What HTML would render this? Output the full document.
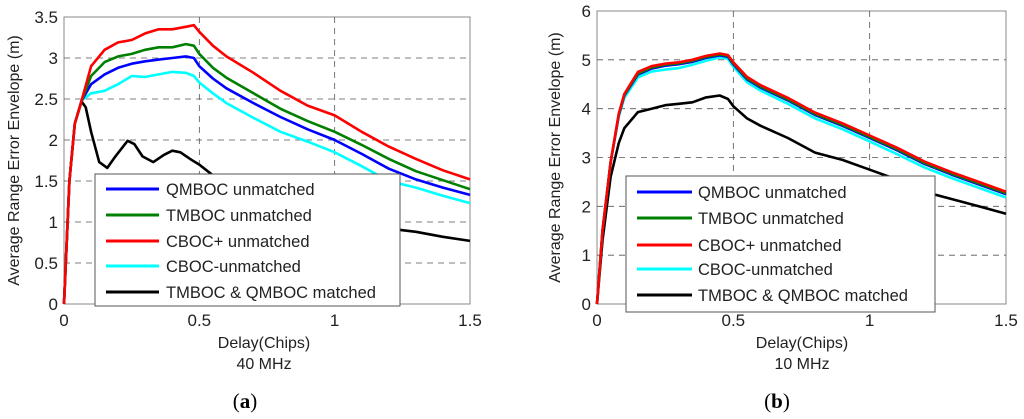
<!DOCTYPE html>
<html><head><meta charset="utf-8"><style>
body{margin:0;background:#fff;}
svg{display:block;font-family:"Liberation Sans",sans-serif;}
</style></head><body>
<svg id="s" width="1024" height="419" xmlns="http://www.w3.org/2000/svg"></svg>
<script>
const xsA=[0,0.02,0.04,0.065,0.1,0.15,0.2,0.25,0.3,0.35,0.4,0.45,0.48,0.5,0.55,0.6,0.7,0.8,0.9,1.0,1.1,1.2,1.3,1.4,1.5];
const blueA=[0,1.5,2.2,2.48,2.68,2.8,2.88,2.93,2.96,2.98,3.0,3.02,3.0,2.9,2.75,2.63,2.45,2.28,2.13,2.0,1.83,1.65,1.52,1.42,1.33];
const greenA=[0,1.5,2.2,2.48,2.78,2.95,3.02,3.05,3.1,3.13,3.13,3.17,3.15,3.05,2.88,2.76,2.57,2.38,2.23,2.1,1.94,1.77,1.62,1.51,1.4];
const redA=[0,1.5,2.2,2.48,2.9,3.1,3.19,3.22,3.3,3.35,3.35,3.38,3.4,3.32,3.15,3.02,2.82,2.6,2.42,2.3,2.1,1.92,1.77,1.63,1.52];
const cyanA=[0,1.5,2.2,2.48,2.57,2.6,2.68,2.78,2.77,2.8,2.83,2.82,2.78,2.7,2.57,2.45,2.27,2.1,1.98,1.85,1.68,1.5,1.42,1.32,1.23];
const xsK=[0,0.02,0.04,0.065,0.08,0.1,0.13,0.16,0.19,0.235,0.26,0.29,0.33,0.37,0.4,0.43,0.47,0.5,0.55,0.6,0.7,0.8,0.9,1.0,1.1,1.2,1.3,1.4,1.5];
const blackA=[0,1.5,2.2,2.47,2.4,2.1,1.73,1.66,1.8,1.99,1.95,1.8,1.73,1.82,1.87,1.85,1.76,1.7,1.57,1.48,1.35,1.22,1.1,1.0,0.97,0.92,0.88,0.82,0.77];
const xsB=[0,0.02,0.05,0.08,0.1,0.15,0.2,0.25,0.3,0.35,0.4,0.45,0.48,0.5,0.55,0.6,0.7,0.8,0.9,1.0,1.1,1.2,1.3,1.4,1.5];
const redB=[0,1.5,2.9,3.9,4.3,4.75,4.87,4.92,4.95,5.0,5.08,5.13,5.1,4.95,4.65,4.48,4.22,3.92,3.7,3.45,3.2,2.92,2.7,2.5,2.3];
const greenB=[0,1.5,2.9,3.88,4.28,4.72,4.84,4.9,4.93,4.98,5.06,5.11,5.08,4.93,4.62,4.45,4.19,3.89,3.67,3.42,3.17,2.89,2.67,2.47,2.27];
const blueB=[0,1.5,2.9,3.87,4.27,4.7,4.82,4.88,4.91,4.96,5.04,5.09,5.06,4.91,4.6,4.43,4.17,3.87,3.65,3.4,3.15,2.87,2.65,2.45,2.25];
const cyanB=[0,1.5,2.9,3.84,4.22,4.64,4.76,4.8,4.83,4.9,4.98,5.05,5.02,4.86,4.54,4.37,4.1,3.8,3.58,3.33,3.07,2.8,2.58,2.38,2.18];
const blackB=[0,1.3,2.6,3.3,3.6,3.93,4.0,4.07,4.1,4.13,4.23,4.27,4.2,4.05,3.8,3.65,3.4,3.1,2.95,2.75,2.55,2.3,2.15,2.0,1.85];
const xTicks=["0","0.5","1","1.5"];
const yTicksA=["0","0.5","1","1.5","2","2.5","3","3.5"];
const yTicksB=["0","1","2","3","4","5","6"];
const legendLabels=["QMBOC unmatched","TMBOC unmatched","CBOC+ unmatched","CBOC-unmatched","TMBOC & QMBOC matched"];

const NS="http://www.w3.org/2000/svg",S=document.getElementById('s');
function el(t,a,p){const e=document.createElementNS(NS,t);for(const k in a)e.setAttribute(k,a[k]);(p||S).appendChild(e);return e;}
function chart(o){
  const g=el('g',{});
  
  
  const X=v=>o.x0+(v/1.5)*(o.x1-o.x0), Y=v=>o.y0-(v/o.ymax)*(o.y0-o.y1);
  el('rect',{x:o.x0,y:o.y1,width:o.x1-o.x0,height:o.y0-o.y1,fill:'#fff',stroke:'#888','stroke-width':1},g);
  xTicks.forEach(t=>{const v=+t,x=X(v);
    if(v>0&&v<1.5){const l=el('line',{x1:x,x2:x,y1:o.y1,y2:o.y0,stroke:'#555','stroke-dasharray':'6,5','stroke-width':0.8},g);}
    const tx=el('text',{x:x,y:o.y0+22,'font-size':17,'text-anchor':'middle',fill:'#222'},g);tx.textContent=t;
    });
  o.yt.forEach(t=>{const v=+t,y=Y(v);
    if(v>0&&v<o.ymax){const l=el('line',{x1:o.x0,x2:o.x1,y1:y,y2:y,stroke:'#555','stroke-dasharray':'6,5','stroke-width':0.8},g);}
    const tx=el('text',{x:o.x0-6,y:y+6,'font-size':17,'text-anchor':'end',fill:'#222'},g);tx.textContent=t;
    });
  o.series.forEach(s=>{
    const d=s.y.map((v,i)=>(i?'L':'M')+X(s.x[i]).toFixed(1)+','+Y(v).toFixed(1)).join('');
    const p=el('path',{d:d,fill:'none',stroke:s.c,'stroke-width':2.6,'stroke-linejoin':'round'},g);
    });
  const L=o.leg;
  const lg=el('g',{},g);
  el('rect',{x:L.x,y:L.y,width:L.w,height:L.h,fill:'#fff',stroke:'#555','stroke-width':1},lg);
  const cols=['#0000ff','#008000','#ff0000','#00ffff','#000000'];
  legendLabels.forEach((t,i)=>{const y=L.ys[i];
    el('line',{x1:L.x+11,x2:L.x+L.lw,y1:y,y2:y,stroke:cols[i],'stroke-width':3},lg);
    const tx=el('text',{x:L.x+L.tx,y:y+6,'font-size':16.5,fill:'#222'},lg);tx.textContent=t;
    });
  const yl=el('text',{x:0,y:0,'font-size':16,'text-anchor':'middle',fill:'#222',transform:`translate(${o.ylx},${(o.y0+o.y1)/2}) rotate(-90)`},g);
  yl.textContent='Average Range Error Envelope (m)';
  const cx=o.cx;
  const xl=el('text',{x:cx,y:348,'font-size':16,'text-anchor':'middle',fill:'#222'},g);xl.textContent='Delay(Chips)';
  
  const fl=el('text',{x:cx,y:369,'font-size':16,'text-anchor':'middle',fill:'#222'},g);fl.textContent=o.freq;
  
  const pl=el('text',{x:o.px,y:408,'font-size':21,'text-anchor':'middle',fill:'#000','font-family':'Liberation Serif, serif'},g);
  pl.innerHTML='(<tspan font-weight="bold">'+o.letter+'</tspan>)';
  
}
chart({name:'chart-a',x0:64,x1:470,y0:304,y1:17,ymax:3.5,yt:yTicksA,ylx:19,cx:264,px:245,letter:'a',freq:'40 MHz',
  leg:{x:95,y:174,w:305,h:132,ys:[189,215,241,266,292],lw:159-95,tx:71},
  series:[{x:xsK,y:blackA,c:'#000',n:'line-matched'},{x:xsA,y:cyanA,c:'#00ffff',n:'line-cboc-minus'},{x:xsA,y:blueA,c:'#0000ff',n:'line-qmboc'},{x:xsA,y:greenA,c:'#008000',n:'line-tmboc'},{x:xsA,y:redA,c:'#ff0000',n:'line-cboc-plus'}]});
chart({name:'chart-b',x0:597,x1:1006,y0:304,y1:11,ymax:6,yt:yTicksB,ylx:560,cx:802,px:777,letter:'b',freq:'10 MHz',
  leg:{x:626,y:176,w:309,h:136,ys:[192,218,245,269,295],lw:692-626,tx:72},
  series:[{x:xsB,y:blackB,c:'#000',n:'line-matched'},{x:xsB,y:cyanB,c:'#00ffff',n:'line-cboc-minus'},{x:xsB,y:blueB,c:'#0000ff',n:'line-qmboc'},{x:xsB,y:greenB,c:'#008000',n:'line-tmboc'},{x:xsB,y:redB,c:'#ff0000',n:'line-cboc-plus'}]});
</script>
</body></html>
